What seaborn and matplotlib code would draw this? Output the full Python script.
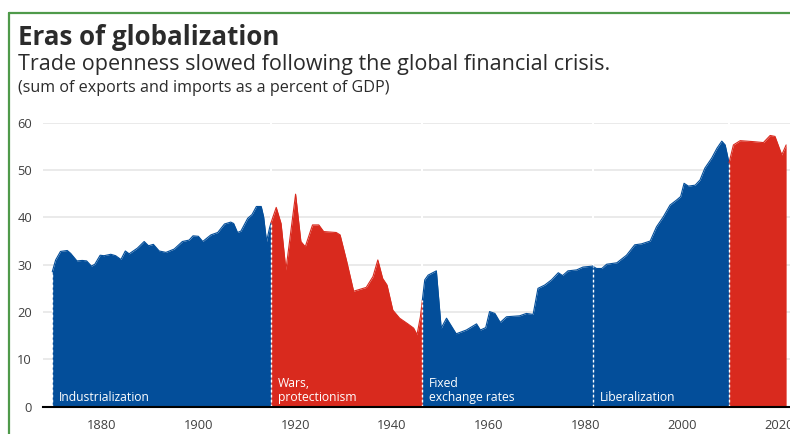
import matplotlib
matplotlib.use('Agg')
import matplotlib.pyplot as plt
import numpy as np
import pandas as pd
import seaborn as sns
from matplotlib.lines import Line2D

# trade openness
years = [1869.8, 1870.5, 1871.5, 1872.9, 1873.6, 1874.9, 1876.0, 1876.9, 1877.9, 1878.6,
         1879.7, 1880.5, 1881.9, 1882.9, 1884.0, 1884.9, 1885.7, 1887.4, 1888.8, 1889.7,
         1890.7, 1891.9, 1893.3, 1895.0, 1896.7, 1898.1, 1898.9, 1900.0, 1900.9, 1902.6,
         1904.0, 1905.4, 1906.7, 1907.3, 1908.1, 1908.8, 1910.2, 1911.1, 1912.0, 1913.0,
         1913.5, 1914.1, 1914.7, 1915.0,
         1916.1, 1917.1, 1918.1, 1920.1, 1921.2, 1922.1, 1923.6, 1924.9, 1925.9, 1928.5,
         1929.3, 1930.6, 1932.1, 1934.7, 1936.1, 1937.1, 1938.1, 1939.0, 1940.2, 1941.6,
         1943.3, 1944.5, 1945.2, 1945.9, 1946.3,
         1946.8, 1947.5, 1949.2, 1950.2, 1951.3, 1953.3, 1955.4, 1957.5, 1958.3, 1959.4,
         1960.2, 1961.3, 1962.4, 1963.7, 1966.4, 1967.8, 1969.2, 1970.2, 1971.6, 1973.0,
         1974.4, 1975.3, 1976.4, 1978.2, 1979.5, 1981.5, 1982.3, 1983.4, 1984.4, 1986.5,
         1988.5, 1990.2, 1991.6, 1993.4, 1994.7, 1996.1, 1997.5, 1998.9, 1999.7, 2000.4,
         2001.3, 2002.7, 2003.7, 2004.7, 2006.1, 2007.2, 2008.2, 2008.9, 2009.7,
         2010.6, 2012.0, 2014.7, 2016.8, 2018.2, 2019.2, 2020.6, 2021.5]
openness = [28.5, 31.0, 32.8, 33.0, 32.4, 30.8, 30.9, 30.8, 29.7, 30.1,
            32.0, 31.9, 32.2, 31.9, 31.1, 32.9, 32.3, 33.5, 34.9, 34.0,
            34.3, 32.9, 32.6, 33.3, 34.9, 35.2, 36.1, 36.0, 34.9, 36.3,
            36.8, 38.6, 39.0, 38.7, 36.8, 37.1, 39.8, 40.6, 42.3, 42.3,
            40.1, 34.9, 37.7, 38.8,
            42.1, 38.7, 28.9, 44.9, 34.9, 33.8, 38.4, 38.4, 37.0, 36.8,
            36.3, 31.0, 24.4, 25.2, 27.5, 31.0, 27.1, 25.7, 20.4, 18.7,
            17.5, 16.6, 15.2, 19.0, 22.5,
            26.8, 27.8, 28.7, 16.6, 18.7, 15.4, 16.2, 17.5, 16.2, 16.7,
            20.1, 19.7, 17.8, 19.0, 19.2, 19.7, 19.5, 25.0, 25.7, 26.8,
            28.3, 27.7, 28.7, 28.9, 29.5, 29.7, 29.2, 29.2, 30.1, 30.4,
            32.0, 34.2, 34.4, 35.0, 38.0, 40.1, 42.6, 43.7, 44.4, 47.2,
            46.6, 46.8, 47.9, 50.4, 52.5, 54.6, 56.1, 55.3, 51.5,
            55.3, 56.2, 56.0, 55.8, 57.3, 57.1, 53.2, 55.3]

era_starts = [1869.8, 1915.0, 1946.3, 1981.5, 2009.7]
era_ends = [1915.0, 1946.3, 1981.5, 2009.7, 2021.5]
era_labels = ['Industrialization', 'Wars,\nprotectionism', 'Fixed\nexchange rates', 'Liberalization', '']
era_colors = ['#034e9a', '#d92a1e', '#034e9a', '#034e9a', '#d92a1e']

yticks = [0, 10, 20, 30, 40, 50, 60]
xticks = [1880, 1900, 1920, 1940, 1960, 1980, 2000, 2020]

df = pd.DataFrame({'year': years, 'val': openness})

##
sns.set_theme(style='white')
plt.rcParams['font.family'] = ['Open Sans', 'DejaVu Sans']

fig = plt.figure(figsize=(7.9, 4.34), dpi=100)
ax = fig.add_axes([0.0545, 0.0629, 0.9455, 0.6544])

for y in yticks[1:]:
  ax.axhline(y, color='#e8e8e8', lw=1.3, zorder=0)

# white breaks in the gridlines at era changes
for x0 in era_starts[1:]:
  ax.axvline(x0, color='white', lw=1.5, zorder=0.5)

for s, e, lab, c in zip(era_starts, era_ends, era_labels, era_colors):
  d = df[(df.year >= s) & (df.year <= e)]
  ax.fill_between(d.year, 0, d.val, color=c, lw=0, zorder=1)
  sns.lineplot(data=d, x='year', y='val', color=c, lw=0.8, ax=ax, zorder=1.5)
  top = np.interp(s, df.year, df.val)
  ax.plot([s, s], [0, top], color='white', lw=1, ls=(0, (2, 1.6)), zorder=2)
  if lab:
    ax.text(s + 1.4, 1.3, lab, color='white', fontsize=8.7, va='baseline', ha='left',
            linespacing=1.1, zorder=3)

ax.set_xlim(1867.9, 2022.3)
ax.set_ylim(0, 60)
ax.set_xticks(xticks)
ax.set_yticks(yticks)
ax.set_xlabel('')
ax.set_ylabel('')
ax.tick_params(axis='both', length=0, labelsize=9.3, labelcolor='#404040')
ax.tick_params(axis='x', pad=9)
ax.tick_params(axis='y', pad=8)
for sp in ['top', 'right', 'left']:
  ax.spines[sp].set_visible(False)
ax.spines['bottom'].set_color('black')
ax.spines['bottom'].set_linewidth(1.5)
ax.spines['bottom'].set_zorder(4)

##
fig.text(0.0228, 0.896, 'Eras of globalization', fontsize=18.6, fontweight='bold',
         color='#2b2b2b', va='baseline')
fig.text(0.0228, 0.839, 'Trade openness slowed following the global financial crisis.',
         fontsize=15.5, color='#2b2b2b', va='baseline')
fig.text(0.0228, 0.789, '(sum of exports and imports as a percent of GDP)',
         fontsize=11.6, color='#2b2b2b', va='baseline')

# green frame (top and left edge)
fig.add_artist(Line2D([0.0114, 1.0], [0.970, 0.970], color='#4f9a4a', lw=1.6))
fig.add_artist(Line2D([0.0114, 0.0114], [0.0, 0.970], color='#4f9a4a', lw=1.6))

plt.savefig('out.png', dpi=100)
